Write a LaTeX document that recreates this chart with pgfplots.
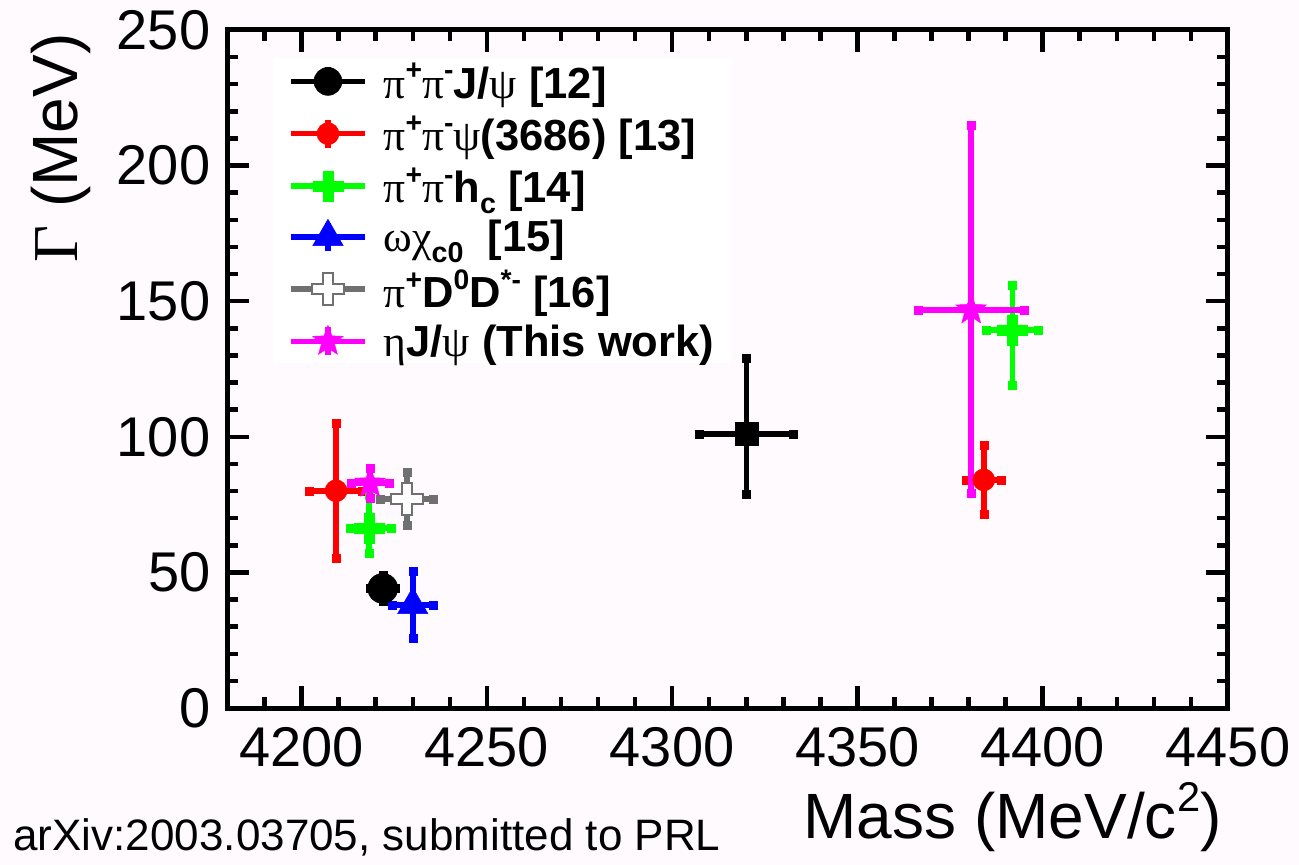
\documentclass[border=0pt]{standalone}
\usepackage{graphicx}
\usepackage{fontspec}
\setmainfont{Liberation Sans}
\newfontfamily\grk{Liberation Serif}
\usepackage{pgfplots}
\pgfplotsset{compat=1.18}

\definecolor{bgtint}{RGB}{254,250,254}
\definecolor{rred}{rgb}{1,0,0}
\definecolor{rgreen}{rgb}{0,1,0}
\definecolor{rblue}{rgb}{0,0,1}
\definecolor{rgray}{RGB}{112,112,112}
\definecolor{rmag}{rgb}{1,0,1}

\newcommand\gr[1]{{\grk\mdseries #1}}
\newcommand\sps[1]{\raisebox{0.42em}{\scalebox{0.65}{#1}}}
\newcommand\sbs[1]{\raisebox{-0.24em}{\scalebox{0.66}{#1}}}

% filled cross (plus sign with thick arms)
\pgfdeclareplotmark{fcross}{%
  \pgfpathmoveto{\pgfpoint{-\pgfplotmarksize}{0.33\pgfplotmarksize}}%
  \pgfpathlineto{\pgfpoint{-0.33\pgfplotmarksize}{0.33\pgfplotmarksize}}%
  \pgfpathlineto{\pgfpoint{-0.33\pgfplotmarksize}{\pgfplotmarksize}}%
  \pgfpathlineto{\pgfpoint{0.33\pgfplotmarksize}{\pgfplotmarksize}}%
  \pgfpathlineto{\pgfpoint{0.33\pgfplotmarksize}{0.33\pgfplotmarksize}}%
  \pgfpathlineto{\pgfpoint{\pgfplotmarksize}{0.33\pgfplotmarksize}}%
  \pgfpathlineto{\pgfpoint{\pgfplotmarksize}{-0.33\pgfplotmarksize}}%
  \pgfpathlineto{\pgfpoint{0.33\pgfplotmarksize}{-0.33\pgfplotmarksize}}%
  \pgfpathlineto{\pgfpoint{0.33\pgfplotmarksize}{-\pgfplotmarksize}}%
  \pgfpathlineto{\pgfpoint{-0.33\pgfplotmarksize}{-\pgfplotmarksize}}%
  \pgfpathlineto{\pgfpoint{-0.33\pgfplotmarksize}{-0.33\pgfplotmarksize}}%
  \pgfpathlineto{\pgfpoint{-\pgfplotmarksize}{-0.33\pgfplotmarksize}}%
  \pgfpathclose
  \pgfusepathqfillstroke
}
% filled five-pointed star
\pgfdeclareplotmark{fstar}{%
  \pgfpathmoveto{\pgfpointpolar{90}{\pgfplotmarksize}}%
  \pgfpathlineto{\pgfpointpolar{126}{0.42\pgfplotmarksize}}%
  \pgfpathlineto{\pgfpointpolar{162}{\pgfplotmarksize}}%
  \pgfpathlineto{\pgfpointpolar{198}{0.42\pgfplotmarksize}}%
  \pgfpathlineto{\pgfpointpolar{234}{\pgfplotmarksize}}%
  \pgfpathlineto{\pgfpointpolar{270}{0.42\pgfplotmarksize}}%
  \pgfpathlineto{\pgfpointpolar{306}{\pgfplotmarksize}}%
  \pgfpathlineto{\pgfpointpolar{342}{0.42\pgfplotmarksize}}%
  \pgfpathlineto{\pgfpointpolar{18}{\pgfplotmarksize}}%
  \pgfpathlineto{\pgfpointpolar{54}{0.42\pgfplotmarksize}}%
  \pgfpathclose
  \pgfusepathqfillstroke
}

\pgfplotsset{
  ebar/.style={
    /pgfplots/error bars/x dir=both, /pgfplots/error bars/x explicit,
    /pgfplots/error bars/y dir=both, /pgfplots/error bars/y explicit,
    /pgfplots/error bars/error bar style={line width=5.5pt, #1},
    /pgfplots/error bars/error mark=square*,
    /pgfplots/error bars/error mark options={mark size=4pt, draw=#1, fill=#1, line width=0.5pt}},
  errleg/.style n args={2}{legend image code/.code={
    \draw[line width=5.5pt, #1] (37pt,-14pt) -- (37pt,14pt);
    \draw[line width=5.5pt, #1] (0pt,0pt) -- (74pt,0pt);
    \draw[#2] plot coordinates {(37pt,0pt)};}},
}

\begin{document}
\begin{tikzpicture}
\fill[bgtint] (-227.5pt,-157pt) rectangle (1071.5pt,708pt);
\begin{axis}[
  scale only axis, width=1000.5pt, height=678pt,
  xmin=4180, xmax=4450, ymin=0, ymax=250,
  xtick={4200,4250,...,4450}, ytick={0,50,...,250},
  minor xtick={4180,4190,...,4450}, minor ytick={0,10,...,250},
  tick align=inside, tick pos=both,
  major tick length=22pt, minor tick length=11pt,
  axis line style={line width=5pt},
  every tick/.style={line width=4.5pt, black},
  tick label style={font=\fontsize{56}{60}\selectfont},
  /pgf/number format/1000 sep={},
  /pgf/number format/assume math mode=true,
  scaled ticks=false,
  yticklabel style={anchor=east, inner sep=0pt, xshift=-17pt},
  xticklabel style={anchor=north, inner sep=0pt, yshift=-19pt},
  legend style={at={(0.0455,0.9587)}, anchor=north west, fill=white, draw=none,
    inner xsep=15pt, inner ysep=3pt, row sep=12pt,
    font=\fontsize{43.5}{47}\selectfont\bfseries,
    /tikz/every odd column/.append style={column sep=14pt}},
  legend cell align=left,
]
% pi+ pi- J/psi
\addplot[only marks, mark=*, mark size=15pt, mark options={draw=black, fill=black, line width=0.5pt},
  ebar=black,
  errleg={black}{mark=*, mark size=14pt, mark options={draw=black, fill=black, line width=0.5pt}}]
  coordinates {(4221.9,44.1) +- (3.4,4.7)};
\addlegendentry{\gr{π}\sps{+}\gr{π}\sps{-}J/\gr{ψ} [12]}
\addplot[forget plot, only marks, mark=square*, mark size=11.5pt, mark options={draw=black, fill=black, line width=0.5pt},
  ebar=black]
  coordinates {(4320.0,101.0) += (12.7,28.0) -= (12.7,22.0)};
% pi+ pi- psi(3686)
\addplot[only marks, mark=*, mark size=11pt, mark options={draw=rred, fill=rred, line width=0.5pt},
  ebar=rred,
  errleg={rred}{mark=*, mark size=11pt, mark options={draw=rred, fill=rred, line width=0.5pt}}]
  coordinates {(4209.3,80.1) +- (7.2,24.8) (4384.1,84.1) +- (4.6,12.8)};
\addlegendentry{\gr{π}\sps{+}\gr{π}\sps{-}\gr{ψ}(3686) [13]}
% pi+ pi- h_c
\addplot[only marks, mark=fcross, mark size=15pt, mark options={draw=rgreen, fill=rgreen, line width=0.5pt},
  ebar=rgreen,
  errleg={rgreen}{mark=fcross, mark size=15pt, mark options={draw=rgreen, fill=rgreen, line width=0.5pt}}]
  coordinates {(4218.2,66.3) += (6.1,12.3) -= (5.1,9.3) (4391.8,139.4) += (7.0,16.3) -= (7.0,20.4)};
\addlegendentry{\gr{π}\sps{+}\gr{π}\sps{-}h\sbs{c} [14]}
% omega chi_c0
\addplot[only marks, mark=triangle*, mark size=17.5pt, mark options={draw=rblue, fill=rblue, line width=0.5pt},
  ebar=rblue,
  errleg={rblue}{mark=triangle*, mark size=17.5pt, mark options={draw=rblue, fill=rblue, line width=0.5pt}}]
  coordinates {(4230.0,38.0) +- (5.6,12.3)};
\addlegendentry{\gr{ω}\gr{χ}\sbs{c0}\ \ [15]}
% pi+ D0 D*-
\addplot[only marks, mark=fcross, mark size=16pt, mark options={draw=rgray, fill=white, line width=2pt},
  ebar=rgray,
  errleg={rgray}{mark=fcross, mark size=16pt, mark options={draw=rgray, fill=white, line width=2pt}}]
  coordinates {(4228.4,77.1) +- (7.2,9.8)};
\addlegendentry{\gr{π}\sps{+}D\sps{0}D\sps{*-} [16]}
% eta J/psi
\addplot[only marks, mark=fstar, mark size=16pt, mark options={draw=rmag, fill=rmag, line width=0.5pt},
  ebar=rmag,
  errleg={rmag}{mark=fstar, mark size=16pt, mark options={draw=rmag, fill=rmag, line width=0.5pt}}]
  coordinates {(4218.5,82.9) +- (5.1,5.5) (4380.7,146.8) += (14.4,68.2) -= (14.4,67.6)};
\addlegendentry{\gr{η}J/\gr{ψ} (This work)}
\end{axis}
\node[anchor=base east, font=\fontsize{64}{70}\selectfont] at (997.5pt,-130pt) {Mass (MeV/c\raisebox{0.42em}{\scalebox{0.65}{2}})};
\node[anchor=base east, rotate=90, font=\fontsize{64}{70}\selectfont] at (-149.5pt,678pt) {\gr{Γ} (MeV)};
\node[anchor=base west, font=\fontsize{44}{48}\selectfont] at (-217.5pt,-142pt) {arXiv:2003.03705, submitted to PRL};
\pgfresetboundingbox
\path[use as bounding box] (-227.5pt,-157pt) rectangle (1071.5pt,708pt);
\end{tikzpicture}
\end{document}
